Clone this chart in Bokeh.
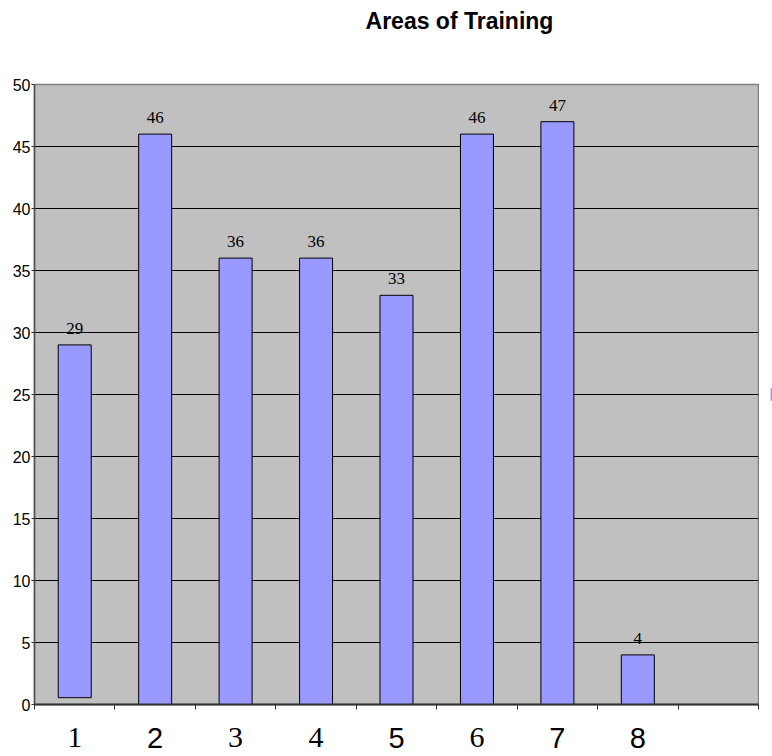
from bokeh.plotting import figure
from bokeh.models import ColumnDataSource, LabelSet, FixedTicker, Range1d
from bokeh.layouts import column, row
from bokeh.core.properties import value
from bokeh.embed import file_html
from bokeh.resources import INLINE

# Data
categories = [1, 2, 3, 4, 5, 6, 7, 8]
counts = [29, 46, 36, 36, 33, 46, 47, 4]
bar_bottoms = [0.55, 0, 0, 0, 0, 0, 0, 0]
tick_labels = ["1", "2", "3", "4", "5", "6", "7", "8"]
serif_labels = ["1", "3", "4", "6"]
title_text = "Areas of Training"

BAR_FILL = "#9999FF"
PLOT_BG = "#C0C0C0"
SANS = "Liberation Sans"
SERIF = "Liberation Serif"

x_range = Range1d(0.5, 9.5)
y_range = Range1d(0, 50)

TOP_H = 72          # title strip
MAIN_TOP = 12       # room above the frame for the "50" label
FRAME_H = 620
MAIN_BOTTOM = 10    # axis line and boundary ticks
BOTTOM_H = 756 - TOP_H - MAIN_TOP - FRAME_H - MAIN_BOTTOM


def blank(fig):
    fig.title = None
    fig.axis.visible = False
    fig.grid.visible = False
    fig.outline_line_color = None
    fig.background_fill_color = "white"
    fig.border_fill_color = "white"
    return fig


# ---- title strip -------------------------------------------------------
top = blank(figure(width=772, height=TOP_H, output_backend="svg",
                   toolbar_location=None, x_range=x_range,
                   y_range=Range1d(0, TOP_H), min_border_left=34,
                   min_border_right=14, min_border_top=0, min_border_bottom=0))
top.text(x=[4.615], y=[TOP_H - 20], text=[title_text], text_align="left",
         text_baseline="alphabetic", text_font=value(SANS),
         text_font_size="23px", text_font_style="bold", text_color="black")

# ---- main chart --------------------------------------------------------
p = figure(width=759, height=MAIN_TOP + FRAME_H + MAIN_BOTTOM,
           output_backend="svg", toolbar_location=None,
           x_range=x_range, y_range=y_range,
           min_border_left=34, min_border_right=1, min_border_top=MAIN_TOP,
           min_border_bottom=MAIN_BOTTOM)
p.title = None

p.background_fill_color = PLOT_BG
p.border_fill_color = "white"
p.outline_line_color = "#808080"
p.outline_line_width = 1.5

p.xgrid.visible = False
p.ygrid.ticker = FixedTicker(ticks=list(range(0, 51, 5)))
p.ygrid.grid_line_color = "black"
p.ygrid.grid_line_width = 1

p.yaxis.ticker = FixedTicker(ticks=list(range(0, 51, 5)))
p.yaxis.major_label_text_font = SANS
p.yaxis.major_label_text_font_size = "16px"
p.yaxis.major_label_text_color = "black"
p.yaxis.major_label_standoff = 1
p.yaxis.major_tick_out = 3
p.yaxis.major_tick_in = 0
p.yaxis.minor_tick_line_color = None
p.yaxis.axis_line_color = "#505050"
p.yaxis.axis_line_width = 1.5
p.yaxis.major_tick_line_color = "#303030"

# x axis carries only the tick marks on category boundaries
boundaries = [i + 0.5 for i in range(0, 10)]
p.xaxis.ticker = FixedTicker(ticks=boundaries)
p.xaxis.major_label_overrides = {b: "" for b in boundaries}
p.xaxis.major_label_standoff = 0
p.xaxis.major_tick_out = 5
p.xaxis.major_tick_in = 0
p.xaxis.minor_tick_line_color = None
p.xaxis.axis_line_color = "#303030"
p.xaxis.axis_line_width = 2
p.xaxis.major_tick_line_color = "#303030"

src = ColumnDataSource(dict(x=categories, top=counts, bottom=bar_bottoms,
                            label=[str(c) for c in counts]))

p.vbar(x="x", top="top", bottom="bottom", width=0.41, source=src,
       fill_color=BAR_FILL, line_color="black", line_width=1)

p.add_layout(LabelSet(x="x", y="top", text="label", source=src,
                      text_align="center", text_baseline="alphabetic",
                      y_offset=11, text_font=SANS, text_font_size="17px",
                      text_color="black"))

# ---- legend key peeking in at the right edge ---------------------------
side = blank(figure(width=13, height=MAIN_TOP + FRAME_H + MAIN_BOTTOM,
                    output_backend="svg", toolbar_location=None,
                    x_range=Range1d(0, 13), y_range=y_range,
                    min_border_left=0, min_border_right=0,
                    min_border_top=MAIN_TOP, min_border_bottom=MAIN_BOTTOM))
side.quad(left=[11], right=[13], bottom=[24.5], top=[25.5],
          fill_color=BAR_FILL, line_color=None)

# ---- category labels (mixed typefaces) ---------------------------------
bottom = blank(figure(width=772, height=BOTTOM_H, output_backend="svg",
                      toolbar_location=None, x_range=x_range,
                      y_range=Range1d(0, BOTTOM_H), min_border_left=34,
                      min_border_right=14, min_border_top=0,
                      min_border_bottom=0))
serif_x = [c for c, t in zip(categories, tick_labels) if t in serif_labels]
serif_t = [t for t in tick_labels if t in serif_labels]
sans_x = [c for c, t in zip(categories, tick_labels) if t not in serif_labels]
sans_t = [t for t in tick_labels if t not in serif_labels]
bottom.text(x=serif_x, y=[19] * len(serif_x), text=serif_t,
            text_align="center", text_baseline="alphabetic",
            text_font=value(SERIF), text_font_size="30px", text_color="black")
bottom.text(x=sans_x, y=[19] * len(sans_x), text=sans_t,
            text_align="center", text_baseline="alphabetic",
            text_font=value(SANS), text_font_size="29px", text_color="black")

layout = column(top, row(p, side), bottom)

open("out.html", "w").write(file_html(layout, INLINE))
